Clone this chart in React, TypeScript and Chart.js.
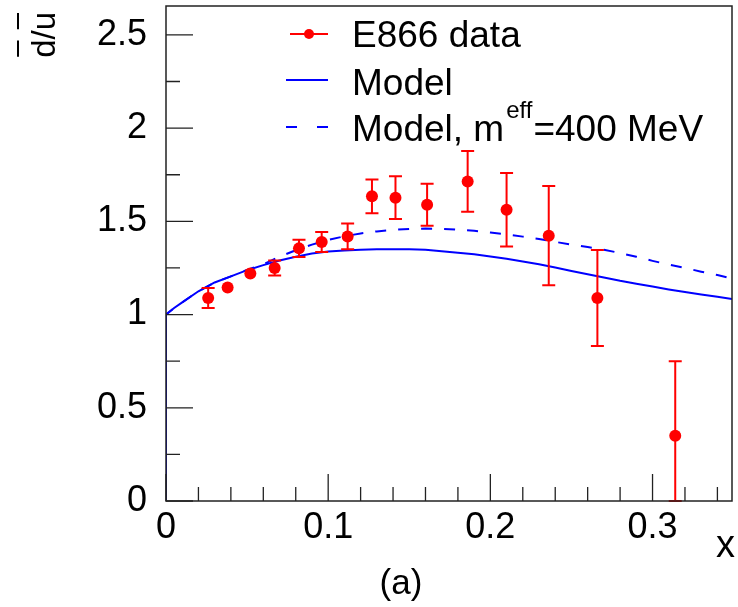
import { useEffect, useRef } from 'react';
import { Chart, registerables } from 'chart.js';

Chart.register(...registerables);

// E866 data points
const E866_X = [0.026, 0.038, 0.052, 0.067, 0.082, 0.096, 0.112, 0.127, 0.1415, 0.161, 0.186, 0.210, 0.236, 0.266, 0.314];
const E866_Y = [1.089, 1.145, 1.220, 1.250, 1.355, 1.389, 1.419, 1.634, 1.627, 1.589, 1.714, 1.562, 1.423, 1.089, 0.350];
const E866_ERR = [0.054, 0.025, 0.025, 0.040, 0.046, 0.054, 0.069, 0.091, 0.115, 0.112, 0.163, 0.197, 0.266, 0.257, 0.40];

// Model curve (solid)
const MODEL_X = [0, 0, 0.005, 0.01, 0.02, 0.03, 0.04, 0.05, 0.06, 0.07, 0.08, 0.09, 0.10, 0.11, 0.12, 0.13, 0.14, 0.15, 0.16, 0.17, 0.18, 0.19, 0.20, 0.21, 0.22, 0.23, 0.24, 0.25, 0.26, 0.27, 0.28, 0.29, 0.30, 0.31, 0.32, 0.33, 0.34, 0.349];
const MODEL_Y = [0, 1.0, 1.035, 1.065, 1.125, 1.172, 1.205, 1.238, 1.265, 1.29, 1.31, 1.327, 1.338, 1.344, 1.348, 1.35, 1.35, 1.35, 1.347, 1.34, 1.332, 1.323, 1.312, 1.299, 1.285, 1.27, 1.252, 1.234, 1.216, 1.199, 1.181, 1.165, 1.150, 1.135, 1.121, 1.108, 1.095, 1.084];

// Model curve, m_eff = 400 MeV (dashed)
const MODEL400_X = [0, 0, 0.005, 0.01, 0.02, 0.03, 0.04, 0.05, 0.06, 0.07, 0.08, 0.09, 0.10, 0.11, 0.12, 0.13, 0.14, 0.15, 0.16, 0.17, 0.18, 0.19, 0.20, 0.21, 0.22, 0.23, 0.24, 0.25, 0.26, 0.27, 0.28, 0.29, 0.30, 0.31, 0.32, 0.33, 0.34, 0.349];
const MODEL400_Y = [0, 1.0, 1.035, 1.065, 1.125, 1.172, 1.205, 1.24, 1.27, 1.31, 1.345, 1.375, 1.40, 1.42, 1.435, 1.446, 1.454, 1.459, 1.461, 1.46, 1.456, 1.449, 1.44, 1.43, 1.418, 1.405, 1.39, 1.375, 1.362, 1.348, 1.33, 1.31, 1.288, 1.268, 1.25, 1.23, 1.212, 1.193];

// Axis ticks
const X_TICKS = [0, 0.02, 0.04, 0.06, 0.08, 0.1, 0.12, 0.14, 0.16, 0.18, 0.2, 0.22, 0.24, 0.26, 0.28, 0.3, 0.32, 0.34];
const X_LABELS: Record<string, string> = { '0': '0', '0.1': '0.1', '0.2': '0.2', '0.3': '0.3' };
const Y_TICKS = [0, 0.25, 0.5, 0.75, 1, 1.25, 1.5, 1.75, 2, 2.25, 2.5];
const Y_LABELS: Record<string, string> = { '0': '0', '0.5': '0.5', '1': '1', '1.5': '1.5', '2': '2', '2.5': '2.5' };

const X_MIN = 0;
const X_MAX = 0.349;
const Y_MIN = 0;
const Y_MAX = 2.655;

const LEGEND_LABELS = ['E866 data', 'Model', 'Model, m', 'eff', '=400 MeV'];
const X_TITLE = 'x';
const PANEL_LABEL = '(a)';

const FONT = '"Liberation Sans", Arial, Helvetica, sans-serif';
const RED = '#ff0000';
const BLUE = '#0000ff';
const MARKER_R = 6;

function labelFor(map: Record<string, string>, v: number): string {
  const key = String(Math.round(v * 1000) / 1000);
  return map[key] ?? '';
}

const overlay = {
  id: 'overlay',
  beforeDatasetDraw(chart: any, args: any) {
    if (args.index !== 0) return;
    const { ctx, chartArea, scales } = chart;
    const xs = scales.x;
    const ys = scales.y;
    ctx.save();
    ctx.beginPath();
    ctx.rect(chartArea.left, chartArea.top, chartArea.right - chartArea.left, chartArea.bottom - chartArea.top + 1);
    ctx.clip();
    ctx.strokeStyle = RED;
    ctx.lineWidth = 2;
    for (let i = 0; i < E866_X.length; i++) {
      const px = xs.getPixelForValue(E866_X[i]);
      const hi = Math.min(E866_Y[i] + E866_ERR[i], Y_MAX);
      const lo = Math.max(E866_Y[i] - E866_ERR[i], Y_MIN);
      const pc = ys.getPixelForValue(E866_Y[i]);
      const pt = ys.getPixelForValue(hi);
      const pb = ys.getPixelForValue(lo);
      // error bars hidden inside the marker are not drawn (as in ROOT)
      if (pc - pt <= MARKER_R && pb - pc <= MARKER_R) continue;
      ctx.beginPath();
      ctx.moveTo(px, pt);
      ctx.lineTo(px, pb);
      ctx.moveTo(px - 6.5, pt);
      ctx.lineTo(px + 6.5, pt);
      ctx.moveTo(px - 6.5, pb);
      ctx.lineTo(px + 6.5, pb);
      ctx.stroke();
    }
    ctx.restore();
  },
  afterDraw(chart: any) {
    const { ctx, chartArea, scales } = chart;
    const xs = scales.x;
    const ys = scales.y;
    const { left, right, top, bottom } = chartArea;
    ctx.save();
    // frame
    ctx.strokeStyle = '#222';
    ctx.lineWidth = 1.5;
    ctx.strokeRect(left, top, right - left, bottom - top);
    // ticks
    ctx.lineWidth = 1.3;
    ctx.beginPath();
    xs.ticks.forEach((t: any) => {
      const px = xs.getPixelForValue(t.value);
      const len = labelFor(X_LABELS, t.value) ? 27 : 14;
      ctx.moveTo(px, bottom);
      ctx.lineTo(px, bottom - len);
    });
    ys.ticks.forEach((t: any) => {
      const py = ys.getPixelForValue(t.value);
      const len = labelFor(Y_LABELS, t.value) ? 27 : 14;
      ctx.moveTo(left, py);
      ctx.lineTo(left + len, py);
    });
    ctx.stroke();

    // legend
    ctx.fillStyle = '#000';
    ctx.textAlign = 'left';
    ctx.textBaseline = 'alphabetic';
    ctx.font = `37px ${FONT}`;
    // row 1
    ctx.strokeStyle = RED;
    ctx.lineWidth = 2;
    ctx.beginPath();
    ctx.moveTo(290, 34);
    ctx.lineTo(328, 34);
    ctx.stroke();
    ctx.fillStyle = RED;
    ctx.beginPath();
    ctx.arc(309, 34, 5, 0, Math.PI * 2);
    ctx.fill();
    ctx.fillStyle = '#000';
    ctx.fillText(LEGEND_LABELS[0], 352, 47);
    // row 2
    ctx.strokeStyle = BLUE;
    ctx.beginPath();
    ctx.moveTo(286, 80);
    ctx.lineTo(328, 80);
    ctx.stroke();
    ctx.fillText(LEGEND_LABELS[1], 352, 95);
    // row 3
    ctx.setLineDash([11, 20]);
    ctx.beginPath();
    ctx.moveTo(286, 127);
    ctx.lineTo(330, 127);
    ctx.stroke();
    ctx.setLineDash([]);
    let tx = 352;
    ctx.fillText(LEGEND_LABELS[2], tx, 141);
    tx += ctx.measureText(LEGEND_LABELS[2]).width + 2;
    ctx.font = `24px ${FONT}`;
    ctx.fillText(LEGEND_LABELS[3], tx, 118);
    tx += ctx.measureText(LEGEND_LABELS[3]).width + 1;
    ctx.font = `37px ${FONT}`;
    ctx.fillText(LEGEND_LABELS[4], tx, 141);

    // x title
    ctx.textAlign = 'right';
    ctx.font = `38px ${FONT}`;
    ctx.fillText(X_TITLE, 735, 557);
    // panel label
    ctx.textAlign = 'center';
    ctx.font = `35px ${FONT}`;
    ctx.fillText(PANEL_LABEL, 401, 594);

    // y title: d-bar / u-bar, rotated
    ctx.save();
    ctx.translate(55, 12);
    ctx.rotate(-Math.PI / 2);
    ctx.font = `33px ${FONT}`;
    ctx.textAlign = 'right';
    const full = 'd/u';
    const wFull = ctx.measureText(full).width;
    const wd = ctx.measureText('d').width;
    const wu = ctx.measureText('u').width;
    ctx.fillText(full, 0, 0);
    ctx.strokeStyle = '#000';
    ctx.lineWidth = 2;
    ctx.beginPath();
    ctx.moveTo(-wFull + 1, -37);
    ctx.lineTo(-wFull + wd - 1, -37);
    ctx.moveTo(-wu + 1, -37);
    ctx.lineTo(-1, -37);
    ctx.stroke();
    ctx.restore();

    ctx.restore();
  },
};

export default function App() {
  const ref = useRef<HTMLCanvasElement | null>(null);
  useEffect(() => {
    document.body.style.margin = '0';
    const canvas = ref.current;
    if (!canvas) return;
    const pts = (xs: number[], ys: number[]) => xs.map((x, i) => ({ x, y: ys[i] }));
    const chart = new Chart(canvas, {
      type: 'scatter',
      data: {
        datasets: [
          {
            label: 'E866 data',
            data: pts(E866_X, E866_Y),
            backgroundColor: RED,
            borderColor: RED,
            pointRadius: MARKER_R,
            pointBorderWidth: 0,
            showLine: false,
          },
          {
            label: 'Model',
            data: pts(MODEL_X, MODEL_Y),
            borderColor: BLUE,
            borderWidth: 2,
            pointRadius: 0,
            showLine: true,
            tension: 0,
          },
          {
            label: 'Model, m_eff=400 MeV',
            data: pts(MODEL400_X, MODEL400_Y),
            borderColor: BLUE,
            borderWidth: 2,
            borderDash: [11, 12],
            pointRadius: 0,
            showLine: true,
            tension: 0,
          },
        ],
      },
      options: {
        responsive: false,
        animation: false,
        events: [],
        layout: { padding: { top: 5, right: 3, left: 0, bottom: 0 } },
        plugins: {
          legend: { display: false },
          tooltip: { enabled: false },
        },
        scales: {
          x: {
            type: 'linear',
            min: X_MIN,
            max: X_MAX,
            afterBuildTicks: (s: any) => {
              s.ticks = X_TICKS.map((v) => ({ value: v }));
            },
            afterFit: (s: any) => {
              s.height = 106;
              s.paddingLeft = 0;
              s.paddingRight = 0;
              s.paddingTop = 0;
              s.paddingBottom = 0;
            },
            grid: { display: false, drawTicks: false },
            border: { display: false },
            ticks: {
              autoSkip: false,
              maxRotation: 0,
              padding: 5,
              color: '#000',
              font: { family: FONT, size: 36 },
              callback: (v: any) => labelFor(X_LABELS, Number(v)),
            },
          },
          y: {
            type: 'linear',
            min: Y_MIN,
            max: Y_MAX,
            afterBuildTicks: (s: any) => {
              s.ticks = Y_TICKS.map((v) => ({ value: v }));
            },
            afterFit: (s: any) => {
              s.width = 166;
              s.paddingLeft = 0;
              s.paddingRight = 0;
              s.paddingTop = 0;
              s.paddingBottom = 0;
            },
            grid: { display: false, drawTicks: false },
            border: { display: false },
            ticks: {
              autoSkip: false,
              padding: 19,
              color: '#000',
              font: { family: FONT, size: 36 },
              callback: (v: any) => labelFor(Y_LABELS, Number(v)),
            },
          },
        },
      },
      plugins: [overlay],
    });
    return () => chart.destroy();
  }, []);
  return (
    <div style={{ width: 738, height: 607 }}>
      <canvas ref={ref} width={738} height={607} style={{ display: 'block' }} />
    </div>
  );
}
